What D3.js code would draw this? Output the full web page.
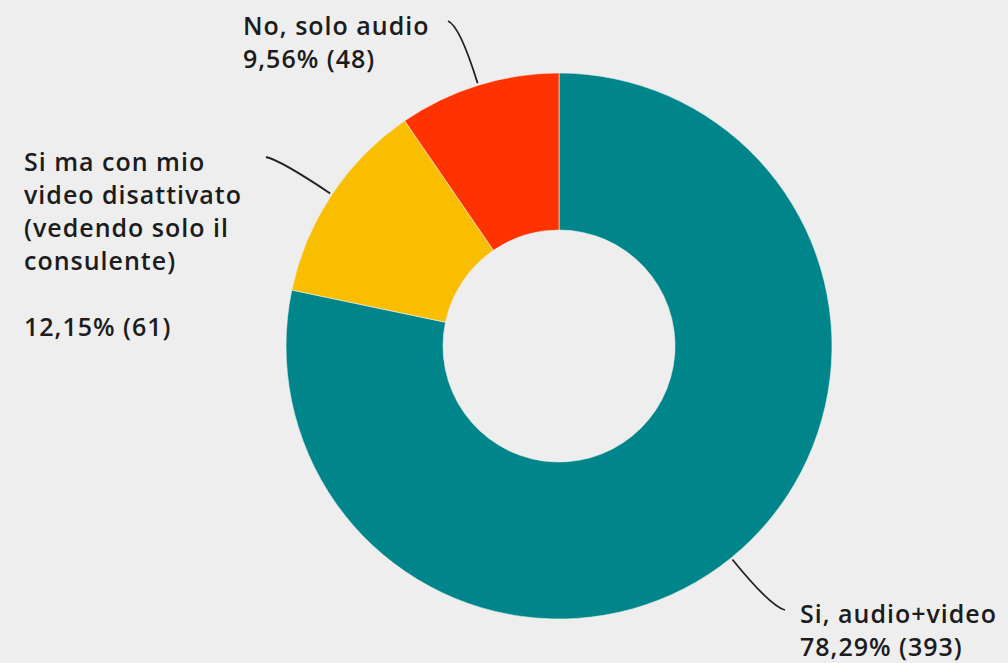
<!DOCTYPE html>
<html>
<head>
<meta charset="utf-8">
<script src="https://cdn.jsdelivr.net/npm/d3@7"></script>
<style>
  html, body { margin: 0; padding: 0; background: #eeeeee; }
  svg { display: block; }
  text { font-family: "Open Sans", "Noto Sans", sans-serif; font-weight: 600; fill: #1c1c1c; letter-spacing: 1px; }
</style>
</head>
<body>
<svg id="chart" width="1008" height="663"></svg>
<script>
// Survey answers, in drawing order (clockwise from 12 o'clock)
const categories = ["Si, audio+video", "Si ma con mio video disattivato (vedendo solo il consulente)", "No, solo audio"];
const counts = [393, 61, 48];
const percentLabels = ["78,29%", "12,15%", "9,56%"];
const colors = ["#00868a", "#f9be00", "#ff3300"];

// Label text lines per slice
const labelLines = [
  ["Si, audio+video", "78,29% (393)"],
  ["Si ma con mio", "video disattivato", "(vedendo solo il", "consulente)", "", "12,15% (61)"],
  ["No, solo audio", "9,56% (48)"]
];

const W = 1008, H = 663;
const cx = 559, cy = 346;
const outerR = 273, innerR = 116;

// Label anchors (left x, first baseline) and leader-line end points
const labelPos = [[800, 623], [24, 171], [243, 35]];
const leaderEnd = [[785, 610], [266, 157], [448, 21]];
const lineHeight = 33;

const svg = d3.select("#chart");
const g = svg.append("g").attr("transform", `translate(${cx},${cy})`);

const pie = d3.pie().value(d => d).sort(null);
const arcs = pie(counts);
const arc = d3.arc().innerRadius(innerR).outerRadius(outerR);

g.selectAll("path.slice")
  .data(arcs)
  .join("path")
  .attr("class", "slice")
  .attr("d", arc)
  .attr("fill", (d, i) => colors[i])
  .attr("stroke", "#eeeeee")
  .attr("stroke-width", 0.6);

// Leader lines: start just outside the ring at the slice middle, bend toward the label
function polar(r, a) { return [cx + r * Math.sin(a), cy - r * Math.cos(a)]; }
arcs.forEach((d, i) => {
  const mid = (d.startAngle + d.endAngle) / 2;
  const p0 = polar(outerR + 2, mid);
  const pc = polar(outerR + 62, mid);
  const p1 = leaderEnd[i];
  const path = d3.path();
  path.moveTo(p0[0], p0[1]);
  path.quadraticCurveTo(pc[0], pc[1], p1[0], p1[1]);
  svg.append("path")
    .attr("d", path.toString())
    .attr("fill", "none")
    .attr("stroke", "#222222")
    .attr("stroke-width", 1.8);
});

// Labels
labelLines.forEach((lines, i) => {
  const t = svg.append("text")
    .attr("x", labelPos[i][0])
    .attr("y", labelPos[i][1])
    .style("font-size", "25px");
  lines.forEach((ln, j) => {
    t.append("tspan")
      .attr("x", labelPos[i][0])
      .attr("y", labelPos[i][1] + j * lineHeight)
      .text(ln);
  });
});
</script>
</body>
</html>
